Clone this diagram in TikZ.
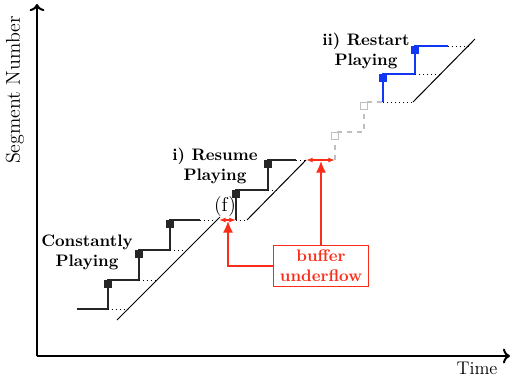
\documentclass[tikz,border=0pt]{standalone}
\usetikzlibrary{arrows.meta}

\definecolor{uflow}{RGB}{250,45,25}
\definecolor{rplay}{RGB}{15,55,245}

\begin{document}
\begin{tikzpicture}[x=0.6pt,y=-0.6pt,
        stair/.style={thick,black!85},
        slope/.style={semithick},
        gap/.style={dotted,thin},
        seg/.style={fill=black!85,inner sep=0pt,minimum size=4.4pt,anchor=north},
        lbl/.style={font=\bfseries,align=center}]
        \useasboundingbox (0,0) rectangle (512,381);

        % axes
        \draw[very thick,->] (37,356) -- (37,4);
        \draw[very thick,->] (37,356) -- (510,356);
        \node[rotate=90,font=\large] (ylab) at (15,90) {Segment Number};
        \node[font=\fontsize{11}{13}\selectfont] (xlab) at (477,368) {Time};

        % constantly playing
        \draw[stair] (77,309) -- (108,309) -- (108,280) -- (139,280) -- (139,250)
            -- (170,250) -- (170,220) -- (200,220);
        \node[seg] (s1) at (108,280) {};
        \node[seg] (s2) at (139,250) {};
        \node[seg] (s3) at (170,220) {};
        \draw[gap] (108,309) -- (128,309);
        \draw[gap] (139,280) -- (157,280);
        \draw[gap] (170,250) -- (187,250);
        \draw[gap] (200,220) -- (218,220);
        \draw[slope] (117,320) -- (220,217);
        \node[lbl] (cp) at (87,252) {Constantly\\Playing};

        % resume playing
        \draw[stair] (236,220) -- (236,190) -- (268,190) -- (268,160) -- (296,160);
        \node[seg] (s4) at (236,190) {};
        \node[seg] (s5) at (268,160) {};
        \draw[gap] (236,220) -- (247,220);
        \draw[gap] (268,190) -- (277,190);
        \draw[gap] (296,160) -- (306,160);
        \draw[slope] (247,220) -- (306,160);
        \node[lbl] (rp) at (215,166) {i) Resume\\Playing};

        % skipped segments
        \draw[gray!50,thick,dashed] (335,160) -- (335,132) -- (364,132) -- (364,102) -- (383,102);
        \node[seg,fill=white,draw=gray!50,thin,minimum size=4pt] (g1) at (335,132) {};
        \node[seg,fill=white,draw=gray!50,thin,minimum size=4pt] (g2) at (364,102) {};

        % restart playing
        \draw[stair,rplay] (383,102) -- (383,74) -- (415,74) -- (415,46) -- (448,46);
        \node[seg,fill=rplay] (s6) at (383,74) {};
        \node[seg,fill=rplay] (s7) at (415,46) {};
        \draw[gap] (383,102) -- (413,102);
        \draw[gap] (415,74) -- (441,74);
        \draw[gap] (448,46) -- (471,46);
        \draw[slope] (413,102) -- (475,39);
        \node[lbl] (sp) at (366,51) {ii) Restart\\Playing};

        % stalls
        \draw[uflow,thick,{Latex[length=4pt]}-{Latex[length=4pt]}] (219,220) -- (236,220);
        \draw[uflow,thick,{Latex[length=4pt]}-{Latex[length=4pt]}] (306,160) -- (335,160);
        \node[font=\large] (f) at (225,207) {(f)};
        \coordinate (u1) at (228,221);
        \coordinate (u2) at (321,161);

        \node[draw=uflow,text=uflow,lbl,semithick,inner xsep=4pt,inner ysep=3pt] (bu) at (321,266) {buffer\\underflow};
        \draw[uflow,thick,-{Latex[length=7pt,width=6pt]}] (bu.west) -| (u1);
        \draw[uflow,thick,-{Latex[length=7pt,width=6pt]}] (bu.north) -- (u2);
    \end{tikzpicture}
\end{document}
